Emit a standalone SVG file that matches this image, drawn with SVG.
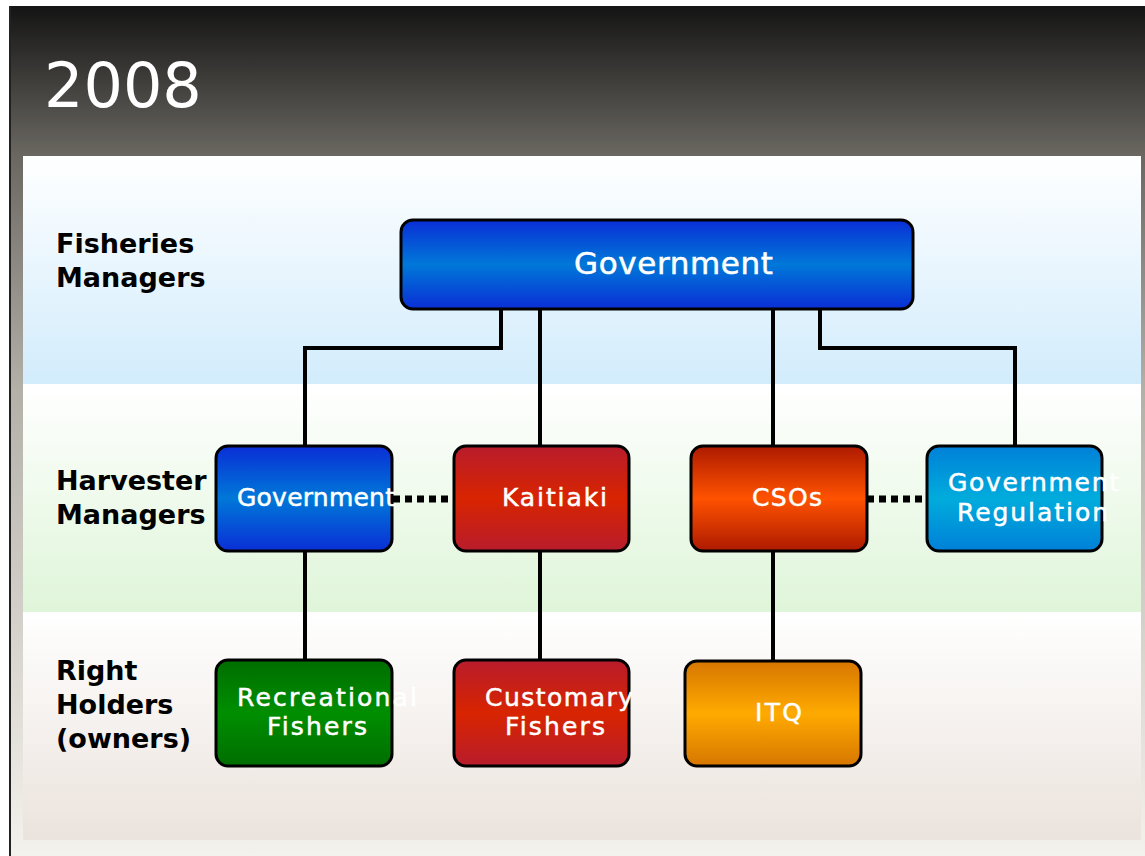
<svg xmlns="http://www.w3.org/2000/svg" width="1145" height="856" viewBox="0 0 1145 856">
<defs>
<linearGradient id="bg" x1="0" y1="0" x2="0" y2="1">
<stop offset="0" stop-color="#141414"/>
<stop offset="0.175" stop-color="#6a6761"/>
<stop offset="0.45" stop-color="#b3b0a8"/>
<stop offset="1" stop-color="#f4f2ec"/>
</linearGradient>
<linearGradient id="b1" x1="0" y1="0" x2="0" y2="1"><stop offset="0" stop-color="#ffffff"/><stop offset="1" stop-color="#d2ecfc"/></linearGradient>
<linearGradient id="b2" x1="0" y1="0" x2="0" y2="1"><stop offset="0" stop-color="#ffffff"/><stop offset="1" stop-color="#dff5d9"/></linearGradient>
<linearGradient id="b3" x1="0" y1="0" x2="0" y2="1"><stop offset="0" stop-color="#ffffff"/><stop offset="1" stop-color="#ebe3dd"/></linearGradient>
<linearGradient id="gBlue" x1="0" y1="0" x2="0" y2="1"><stop offset="0" stop-color="#0a2ed6"/><stop offset="0.5" stop-color="#0078d8"/><stop offset="1" stop-color="#0a2ed6"/></linearGradient>
<linearGradient id="gRed" x1="0" y1="0" x2="0" y2="1"><stop offset="0" stop-color="#b81c2c"/><stop offset="0.5" stop-color="#d82400"/><stop offset="1" stop-color="#b81c2c"/></linearGradient>
<linearGradient id="gOrangeRed" x1="0" y1="0" x2="0" y2="1"><stop offset="0" stop-color="#ad1a00"/><stop offset="0.5" stop-color="#ff5200"/><stop offset="1" stop-color="#ad1a00"/></linearGradient>
<linearGradient id="gCyan" x1="0" y1="0" x2="0" y2="1"><stop offset="0" stop-color="#0080d8"/><stop offset="0.5" stop-color="#00acdc"/><stop offset="1" stop-color="#0080d8"/></linearGradient>
<linearGradient id="gGreen" x1="0" y1="0" x2="0" y2="1"><stop offset="0" stop-color="#006e00"/><stop offset="0.5" stop-color="#008e00"/><stop offset="1" stop-color="#006e00"/></linearGradient>
<linearGradient id="gOrange" x1="0" y1="0" x2="0" y2="1"><stop offset="0" stop-color="#d67600"/><stop offset="0.5" stop-color="#ffaa00"/><stop offset="1" stop-color="#d67600"/></linearGradient>
</defs>
<style>
.box{stroke:#000;stroke-width:3}
.nt{fill:#fff;stroke:#fff;stroke-width:0.5;font-family:"DejaVu Sans",sans-serif;font-size:25px}
.big{font-size:31px}
.lbl{fill:#000;font-family:"DejaVu Sans",sans-serif;font-size:27px;font-weight:bold}
.line{fill:none;stroke:#000;stroke-width:4}
.dot{fill:none;stroke:#000;stroke-width:7;stroke-dasharray:7 5}
</style>
<rect x="0" y="0" width="1145" height="856" fill="#fff"/>
<rect x="10" y="6" width="1135" height="850" fill="url(#bg)"/>
<line x1="10" y1="6" x2="10" y2="856" stroke="#222" stroke-width="2"/>
<text x="44" y="107" fill="#fff" font-family="DejaVu Sans, sans-serif" font-size="62">2008</text>
<rect x="23" y="156" width="1118" height="228" fill="url(#b1)"/>
<rect x="23" y="384" width="1118" height="228" fill="url(#b2)"/>
<rect x="23" y="612" width="1118" height="228" fill="url(#b3)"/>
<g id="labels">
<text class="lbl" x="56" y="253">Fisheries</text>
<text class="lbl" x="56" y="287">Managers</text>
<text class="lbl" x="56" y="490">Harvester</text>
<text class="lbl" x="56" y="524">Managers</text>
<text class="lbl" x="56" y="680">Right</text>
<text class="lbl" x="56" y="714">Holders</text>
<text class="lbl" x="56" y="748">(owners)</text>
</g>
<g id="connectors">
<polyline class="line" points="501,308 501,348 305,348 305,447"/>
<line class="line" x1="540" y1="308" x2="540" y2="447"/>
<line class="line" x1="773" y1="308" x2="773" y2="447"/>
<polyline class="line" points="820,308 820,348 1015,348 1015,447"/>
<line class="line" x1="305" y1="550" x2="305" y2="661"/>
<line class="line" x1="540" y1="550" x2="540" y2="661"/>
<line class="line" x1="773" y1="550" x2="773" y2="662"/>
<line class="dot" x1="393" y1="499" x2="454" y2="499"/>
<line class="dot" x1="867" y1="499" x2="928" y2="499"/>
</g>
<g id="gov-top">
<rect class="box" x="401" y="220" width="512" height="89" rx="12" fill="url(#gBlue)"/>
<text class="nt big" x="574" y="274" textLength="199" lengthAdjust="spacing">Government</text>
</g>
<g id="gov-harv">
<rect class="box" x="216" y="446" width="176" height="105" rx="12" fill="url(#gBlue)"/>
<text class="nt" x="237" y="506" textLength="158" lengthAdjust="spacing">Government</text>
</g>
<g id="kaitiaki">
<rect class="box" x="454" y="446" width="175" height="105" rx="12" fill="url(#gRed)"/>
<text class="nt" x="502" y="506" textLength="105" lengthAdjust="spacing">Kaitiaki</text>
</g>
<g id="csos">
<rect class="box" x="691" y="446" width="176" height="105" rx="12" fill="url(#gOrangeRed)"/>
<text class="nt" x="752" y="506" textLength="70" lengthAdjust="spacing">CSOs</text>
</g>
<g id="gov-reg">
<rect class="box" x="927" y="446" width="175" height="105" rx="12" fill="url(#gCyan)"/>
<text class="nt" x="948" y="491" textLength="171" lengthAdjust="spacing">Government</text>
<text class="nt" x="957" y="521" textLength="151" lengthAdjust="spacing">Regulation</text>
</g>
<g id="recreational">
<rect class="box" x="216" y="660" width="176" height="106" rx="12" fill="url(#gGreen)"/>
<text class="nt" x="237" y="706" textLength="180" lengthAdjust="spacing">Recreational</text>
<text class="nt" x="267" y="735" textLength="100" lengthAdjust="spacing">Fishers</text>
</g>
<g id="customary">
<rect class="box" x="454" y="660" width="175" height="106" rx="12" fill="url(#gRed)"/>
<text class="nt" x="485" y="706" textLength="148" lengthAdjust="spacing">Customary</text>
<text class="nt" x="505" y="735" textLength="100" lengthAdjust="spacing">Fishers</text>
</g>
<g id="itq">
<rect class="box" x="685" y="661" width="176" height="105" rx="12" fill="url(#gOrange)"/>
<text class="nt" x="755" y="721" textLength="47" lengthAdjust="spacing">ITQ</text>
</g>
</svg>
